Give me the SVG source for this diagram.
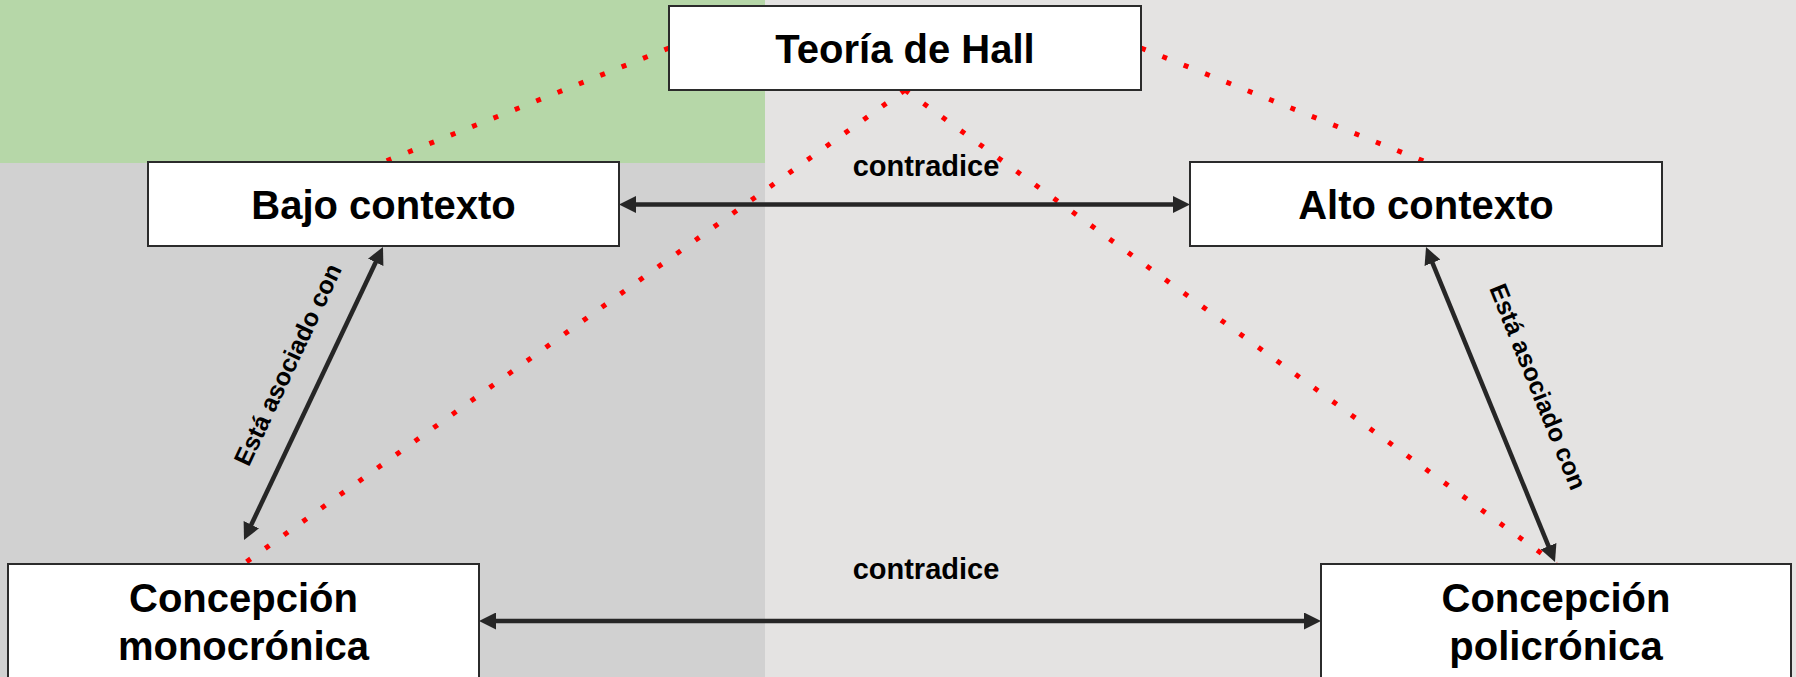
<svg xmlns="http://www.w3.org/2000/svg" width="1796" height="677" viewBox="0 0 1796 677">
<style>
.node rect{fill:#ffffff;stroke:#2b2b2b;stroke-width:2}
.node text{font-family:"Liberation Sans",Arial,sans-serif;font-weight:bold;font-size:40px;fill:#000;text-anchor:middle}
.dot{stroke:#ff0000;stroke-width:5;stroke-dasharray:5 18;fill:none}
.arr{stroke:#262626;stroke-width:4.5;fill:none;marker-start:url(#ah);marker-end:url(#ah)}
.lbl{font-family:"Liberation Sans",Arial,sans-serif;font-weight:bold;fill:#000;text-anchor:middle}
</style>
<defs>
<marker id="ah" markerUnits="userSpaceOnUse" markerWidth="17" markerHeight="17" refX="7" refY="8.5" orient="auto-start-reverse">
<path d="M0,0 L17,8.5 L0,17 Z" fill="#262626"/>
</marker>
</defs>
<g id="background">
<rect x="0" y="0" width="1796" height="677" fill="#e4e3e2"/>
<rect x="0" y="0" width="765" height="677" fill="#d1d1d1"/>
<rect x="0" y="0" width="765" height="163" fill="#b6d7a8"/>
</g>
<g id="connectors">
<line class="dot" x1="669" y1="48" x2="383.5" y2="162"/>
<line class="dot" x1="1141" y1="48" x2="1426" y2="162"/>
<line class="dot" x1="905" y1="90" x2="243.5" y2="564"/>
<line class="dot" x1="905" y1="90" x2="1556" y2="564"/>
<line class="arr" x1="629" y1="204.5" x2="1180" y2="204.5"/>
<line class="arr" x1="489" y1="621" x2="1311" y2="621"/>
<line class="arr" x1="248.3" y1="531" x2="378.7" y2="256"/>
<line class="arr" x1="1429.8" y1="256.3" x2="1551.2" y2="552.7"/>
<text class="lbl" x="926" y="176" font-size="29">contradice</text>
<text class="lbl" x="926" y="579" font-size="29">contradice</text>
<text class="lbl" font-size="25" transform="translate(295.6,368.3) rotate(-64.8)">Está asociado con</text>
<text class="lbl" font-size="25" transform="translate(1530,390) rotate(68)">Está asociado con</text>
</g>
<g id="teoria" class="node">
<rect x="669" y="6" width="472" height="84"/>
<text x="905" y="63">Teoría de Hall</text>
</g>
<g id="bajo" class="node">
<rect x="148" y="162" width="471" height="84"/>
<text x="383.5" y="219">Bajo contexto</text>
</g>
<g id="alto" class="node">
<rect x="1190" y="162" width="472" height="84"/>
<text x="1426" y="219">Alto contexto</text>
</g>
<g id="mono" class="node">
<rect x="8" y="564" width="471" height="140"/>
<text x="243.5" y="612">Concepción</text>
<text x="243.5" y="660">monocrónica</text>
</g>
<g id="poli" class="node">
<rect x="1321" y="564" width="470" height="140"/>
<text x="1556" y="612">Concepción</text>
<text x="1556" y="660">policrónica</text>
</g>
</svg>
